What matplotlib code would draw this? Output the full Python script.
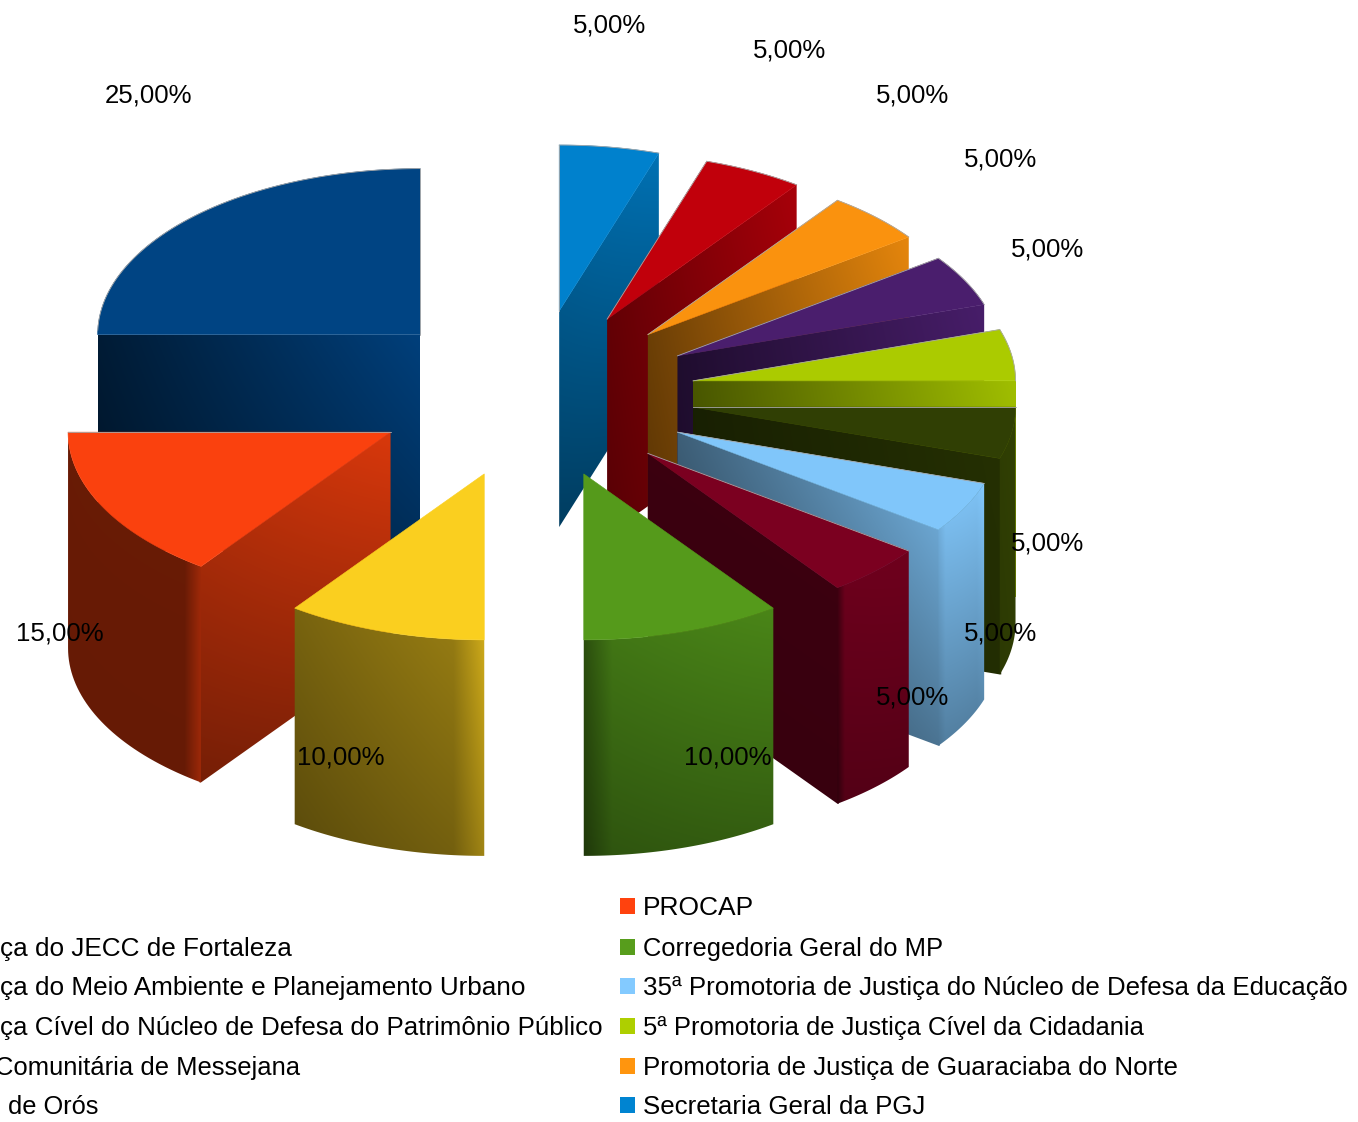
import numpy as np
import matplotlib
matplotlib.use("Agg")
import matplotlib.pyplot as plt
from matplotlib.colors import to_rgb
from matplotlib.patches import Polygon

plt.rcParams["font.family"] = ["Liberation Sans", "DejaVu Sans"]

# %% data, counter-clockwise from 12 o'clock
shares = [25, 15, 10, 10, 5, 5, 5, 5, 5, 5, 5, 5]
colors = ["#004586", "#ff420e", "#ffd320", "#579d1c", "#7e0021", "#83caff",
          "#314004", "#aecf00", "#4b1f6f", "#ff950e", "#c5000b", "#0084d1"]

# legend text, the left column is cut off by the image edge in the original
legend_left = ["ça do JECC de Fortaleza",
               "ça do Meio Ambiente e Planejamento Urbano",
               "ça Cível do Núcleo de Defesa do Patrimônio Público",
               "Comunitária de Messejana",
               "de Orós"]
legend_right = ["PROCAP",
                "Corregedoria Geral do MP",
                "35ª Promotoria de Justiça do Núcleo de Defesa da Educação",
                "5ª Promotoria de Justiça Cível da Cidadania",
                "Promotoria de Justiça de Guaraciaba do Norte",
                "Secretaria Geral da PGJ"]
legend_right_colors = ["#ff420e", "#579d1c", "#83caff", "#aecf00", "#ff950e", "#0084d1"]

# %% layout, in pixels of the 1358x1122 image
cx, cy = 534, 394
rx, ry = 322.5, 166
explode_x, explode_y = 161, 84
height = 216
font_px = 25.9

label_pos = [(148, 95), (60, 633), (341, 757), (728, 757), (913, 697), (1001, 633),
             (1048, 543), (1048, 249), (1001, 159), (913, 95), (790, 50), (610, 25)]
left_x = [0, 0, 0, -5, 8]
row_y = [908, 949, 988, 1028, 1068, 1107]
marker_y = [906, 947, 986, 1026, 1066, 1105]
# small width corrections, the original text is hinted differently
left_scale = [1.007, 1.008, 1.0, 0.99, 0.98]
right_scale = [1.02, 0.983, 1.0, 0.986, 1.0, 1.0]

# wall shading: (positions across wall, brightness, brightness factor at the bottom)
radial_shade = {
    0: ([0, 1], [0.40, 0.92], 0.72),
    1: ([0, 1], [0.64, 0.85], 0.72),
    4: ([0, 1], [0.47, 0.47], 0.95),
    5: ([0, 1], [0.47, 0.82], 0.70),
    6: ([0, 1], [0.50, 0.75], 0.95),
    7: ([0, 1], [0.42, 0.92], 0.90),
    8: ([0, 1], [0.42, 0.95], 0.90),
    9: ([0, 1], [0.42, 0.90], 0.85),
    10: ([0, 1], [0.50, 0.85], 0.90),
    11: ([0, 1], [0.66, 0.86], 0.70),
}
arc_shade = {
    1: ([0, 0.88, 1], [0.41, 0.41, 0.62], 0.98),
    2: ([0, 0.84, 1], [0.47, 0.58, 0.80], 0.78),
    3: ([0, 0.15, 1], [0.50, 0.75, 0.85], 0.72),
    4: ([0, 0.10, 1], [0.50, 0.85, 0.88], 0.78),
    5: ([0, 0.15, 0.85, 1], [0.85, 0.93, 0.95, 1.0], 0.68),
    6: ([0, 1], [0.95, 1.0], 0.95),
}


def point(theta, radius_x, radius_y, x0, y0):
    # theta in degrees, clockwise from 12 o'clock, y axis points down
    t = np.radians(theta)
    return x0 + radius_x * np.sin(t), y0 - radius_y * np.cos(t)


def draw_wall(ax, top_x, top_y, rgb, shade, zorder):
    # wall hangs "height" pixels below the top edge, filled with a gradient image
    outline = np.column_stack([np.r_[top_x, top_x[::-1]],
                               np.r_[top_y, top_y[::-1] + height]])
    x0, x1 = outline[:, 0].min(), outline[:, 0].max()
    y0, y1 = outline[:, 1].min(), outline[:, 1].max()
    xs = np.arange(np.floor(x0), np.ceil(x1) + 1)
    ys = np.arange(np.floor(y0), np.ceil(y1) + 1)
    X, Y = np.meshgrid(xs, ys)
    order = np.argsort(top_x)
    edge = np.interp(X, np.asarray(top_x)[order], np.asarray(top_y)[order])
    v = np.clip((Y - edge) / height, 0, 1)
    u = (X - x0) / max(x1 - x0, 1)
    factor = np.interp(u, shade[0], shade[1]) * (1 + (shade[2] - 1) * v)
    img = np.clip(factor[..., None] * np.array(rgb), 0, 1)
    clip = Polygon(outline, closed=True, transform=ax.transData)
    im = ax.imshow(img, extent=(xs[0], xs[-1], ys[-1], ys[0]), origin="upper",
                   aspect="auto", interpolation="bilinear", zorder=zorder)
    im.set_clip_path(clip)


# %% figure, one axes over the whole image with pixel coordinates
fig = plt.figure(figsize=(13.58, 11.22), dpi=100)
ax = fig.add_axes([0, 0, 1, 1])

# slice angles, clockwise from 12 o'clock
ends = 360 - np.cumsum([0] + shares[:-1]) * 3.6
starts = ends - np.array(shares) * 3.6
mids = (starts + ends) / 2

# paint from the back to the front
for rank, i in enumerate(np.argsort(-np.cos(np.radians(mids)))):
    rgb = to_rgb(colors[i])
    z = 10 + rank * 4
    ax_, ay_ = point(mids[i], explode_x, explode_y, cx, cy)

    # flat side of the slice
    wall_theta = None
    hidden_theta = None
    if np.sin(np.radians(ends[i])) > 1e-6:
        wall_theta, hidden_theta = ends[i], starts[i]
    elif np.sin(np.radians(starts[i])) < -1e-6:
        wall_theta, hidden_theta = starts[i], ends[i]
    if wall_theta is not None and i in radial_shade:
        ex, ey = point(wall_theta, rx, ry, ax_, ay_)
        wall_x, wall_y = [ax_, ex], [ay_, ey]
        if i in arc_shade:
            # keep 1.5 px under the rounded side, otherwise a gap shows between them
            wall_x.append(ex + 1.5 * np.sign(ex - ax_))
            wall_y.append(ey)
        draw_wall(ax, np.array(wall_x), np.array(wall_y), rgb, radial_shade[i], z)

    # rounded outer side
    lo, hi = max(starts[i], 90), min(ends[i], 270)
    if hi > lo and i in arc_shade:
        arc = np.linspace(lo, hi, 40)
        tx, ty = point(arc, rx, ry, ax_, ay_)
        draw_wall(ax, tx, ty, rgb, arc_shade[i], z + 1)

    # top face
    face = tuple(c * 0.98 for c in rgb)
    arc = np.linspace(starts[i], ends[i], 60)
    tx, ty = point(arc, rx, ry, ax_, ay_)
    ax.add_patch(Polygon(np.column_stack([np.r_[ax_, tx], np.r_[ay_, ty]]), closed=True,
                         facecolor=face, edgecolor=face, linewidth=0.4, zorder=z + 2))

    # thin grey line only on the back edges of the top face
    if hidden_theta is not None:
        hx, hy = point(hidden_theta, rx, ry, ax_, ay_)
        ax.plot([ax_, hx], [ay_, hy], color="#a8a8a8", linewidth=0.6, zorder=z + 3)
    back = np.cos(np.radians(arc)) > 0
    if back.any():
        ax.plot(tx[back], ty[back], color="#a8a8a8", linewidth=0.6, zorder=z + 3)

# percent labels
for share, (lx, ly) in zip(shares, label_pos):
    ax.text(lx, ly, f"{share:.2f}%".replace(".", ","), ha="center", va="center",
            fontsize=font_px * 0.72, color="black", zorder=100)

# legend
for text, x, y, s in zip(legend_left, left_x, row_y[1:], left_scale):
    ax.text(x, y, text, ha="left", va="center", fontsize=font_px * 0.72 * s, zorder=100)
for text, color, y, my, s in zip(legend_right, legend_right_colors, row_y, marker_y, right_scale):
    ax.add_patch(Polygon([(620, my - 8), (635, my - 8), (635, my + 8), (620, my + 8)],
                         closed=True, facecolor=color, edgecolor="none", zorder=100))
    ax.text(643, y, text, ha="left", va="center", fontsize=font_px * 0.72 * s, zorder=100)

ax.set_xlim(0, 1358)
ax.set_ylim(1122, 0)
ax.axis("off")

fig.savefig("out.png", dpi=100, facecolor="white")
